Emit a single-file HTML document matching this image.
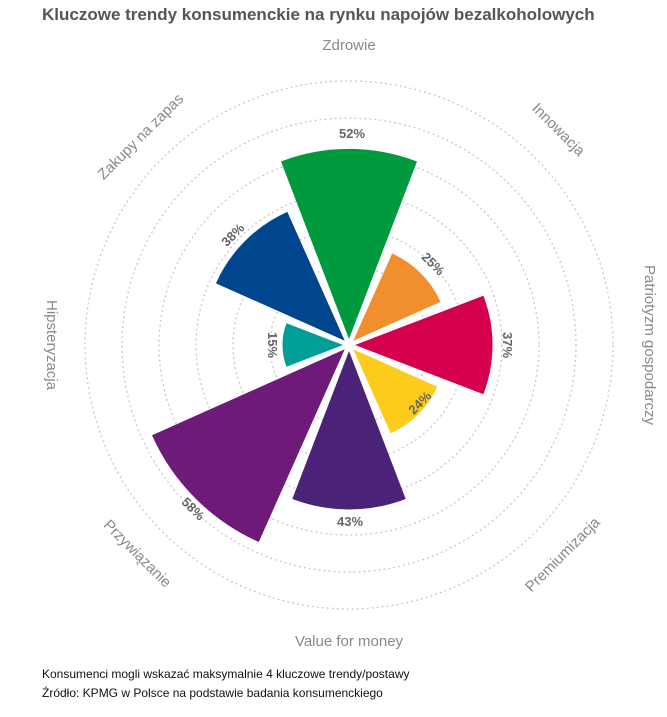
<!DOCTYPE html>
<html><head><meta charset="utf-8"><style>
body{margin:0;background:#fff;width:667px;height:712px;overflow:hidden;font-family:"Liberation Sans",sans-serif}
</style></head><body>
<svg width="667" height="712" viewBox="0 0 667 712" xmlns="http://www.w3.org/2000/svg" font-family="Liberation Sans, sans-serif">
<text x="42" y="20" font-size="17" font-weight="bold" fill="#555">Kluczowe trendy konsumenckie na rynku napojów bezalkoholowych</text>
<g fill="none" stroke="#c8c8c8" stroke-width="1.3" stroke-dasharray="2 3">
<circle cx="349" cy="345" r="264"/><circle cx="349" cy="345" r="227"/><circle cx="349" cy="345" r="190"/>
<circle cx="349" cy="345" r="153"/><circle cx="349" cy="345" r="116"/><circle cx="349" cy="345" r="79"/>
</g>
<g transform="translate(349,345)">
<path transform="rotate(0)" fill="#009a3e" d="M0 -6 L-68 -183.5 A190 190 0 0 1 68 -183.5 Z"/>
<path transform="rotate(45)" fill="#f18e2e" d="M0 -6 L-34.2 -95.2 A95.5 95.5 0 0 1 34.2 -95.2 Z"/>
<path transform="rotate(90)" fill="#d4004e" d="M0 -6 L-49.2 -134.4 A137.5 137.5 0 0 1 49.2 -134.4 Z"/>
<path transform="rotate(135)" fill="#fdcb1c" d="M0 -6 L-32.9 -91.9 A92 92 0 0 1 32.9 -91.9 Z"/>
<path transform="rotate(180)" fill="#4a2378" d="M0 -6 L-56.7 -154 A158.5 158.5 0 0 1 56.7 -154 Z"/>
<path transform="rotate(225)" fill="#6e1a78" d="M0 -6 L-75.5 -203.1 A211 211 0 0 1 75.5 -203.1 Z"/>
<path transform="rotate(270)" fill="#009e96" d="M0 -6 L-21.7 -62.5 A60.5 60.5 0 0 1 21.7 -62.5 Z"/>
<path transform="rotate(315)" fill="#00468f" d="M0 -6 L-50.5 -137.7 A141 141 0 0 1 50.5 -137.7 Z"/>
</g>
<g font-size="13" font-weight="bold" fill="#666" text-anchor="middle">
<text transform="translate(352,138)">52%</text>
<text transform="translate(430,267) rotate(45)">25%</text>
<text transform="translate(503,345) rotate(90)">37%</text>
<text transform="translate(423,406) rotate(-45)">24%</text>
<text transform="translate(350,526)">43%</text>
<text transform="translate(190,512) rotate(45)">58%</text>
<text transform="translate(268,345) rotate(90)">15%</text>
<text transform="translate(236,238) rotate(-45)">38%</text>
</g>
<g font-size="15" fill="#888" text-anchor="middle">
<text transform="translate(349,50)">Zdrowie</text>
<text transform="translate(555,133) rotate(45)">Innowacja</text>
<text transform="translate(645,345) rotate(90)">Patriotyzm gospodarczy</text>
<text transform="translate(566,558) rotate(-45)">Premiumizacja</text>
<text transform="translate(349,646)">Value for money</text>
<text transform="translate(134,557) rotate(45)">Przywiązanie</text>
<text transform="translate(47,345) rotate(90)">Hipsteryzacja</text>
<text transform="translate(144,140) rotate(-45)">Zakupy na zapas</text>
</g>
<text x="42" y="678" font-size="12" fill="#111">Konsumenci mogli wskazać maksymalnie 4 kluczowe trendy/postawy</text>
<text x="42" y="697" font-size="12" fill="#111">Źródło: KPMG w Polsce na podstawie badania konsumenckiego</text>
</svg>
</body></html>
